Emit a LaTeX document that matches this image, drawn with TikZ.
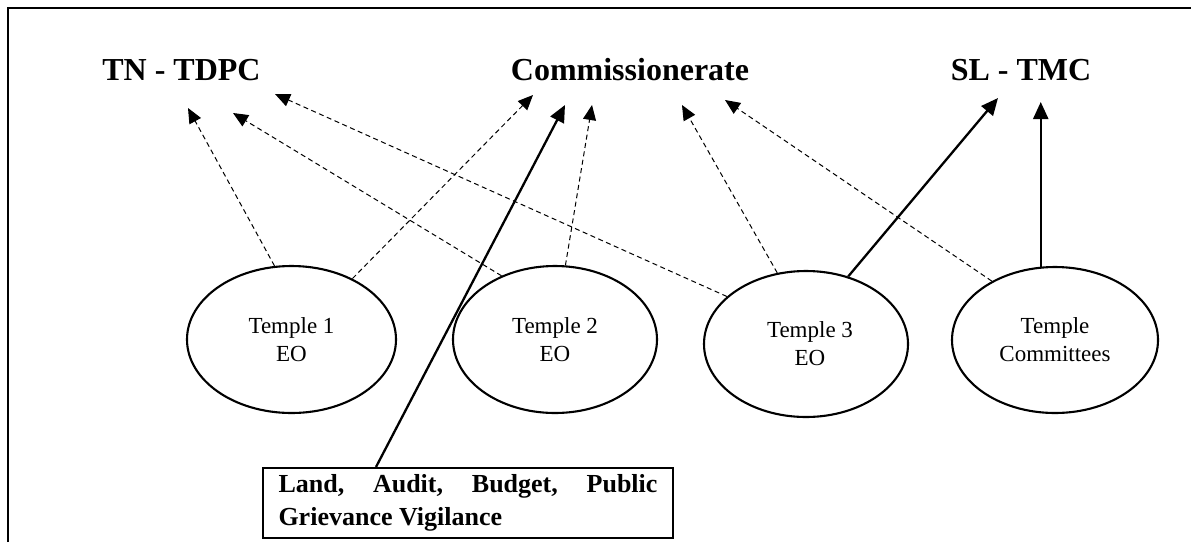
\documentclass[tikz,border=0pt]{standalone}
\usepackage{fontspec}
\setmainfont{Liberation Serif}
\usetikzlibrary{arrows.meta,shapes.geometric,calc}
\begin{document}
\begin{tikzpicture}[x=1pt,y=-1pt,
  heading/.style={font=\fontsize{32}{38}\selectfont\bfseries, anchor=base, inner sep=0pt},
  temple/.style={draw, line width=2.1pt, ellipse, inner sep=0pt, align=center,
                 font=\fontsize{23}{28}\selectfont},
  dasharrow/.style={dash pattern=on 5pt off 3.5pt, line width=1pt,
                    -{Triangle[length=15pt,width=13pt]}},
  solidarrow/.style={line width=2.3pt, -{Triangle[length=17pt,width=15pt]}},
  notebox/.style={draw, line width=2pt, minimum width=410pt, minimum height=70pt,
                  text width=379pt, inner xsep=15.5pt, inner ysep=0pt, align=justify,
                  font=\fontsize{26}{33}\selectfont\bfseries}
]
\useasboundingbox (0,0) rectangle (1191,542);
% frame (top and left only)
\draw[line width=2.3pt] (8,542) -- (8,8) -- (1191,8);

% headings
\node[heading] (tn) at (181.5,80) {TN - TDPC};
\node[heading] (cm) at (630,80) {Commissionerate};
\node[heading] (sl) at (1021,80) {SL - TMC};

% temples
\node[temple, minimum width=209pt, minimum height=147pt] (t1) at (291.5,339.5) {Temple 1\\EO};
\node[temple, minimum width=204pt, minimum height=147pt] (t2) at (555,339.5) {Temple 2\\EO};
\node[temple, minimum width=204pt, minimum height=146pt] (t3) at (806,344) {\hspace*{8pt}Temple 3\\\hspace*{8pt}EO};
\node[temple, minimum width=206pt, minimum height=146pt] (tc) at (1055,340) {Temple\\Committees};

% bottom box
\node[notebox] (box) at (468,503) {\tolerance=10000\relax Land, Audit, Budget, Public Grievance Vigilance};
\coordinate (boxtop) at ($(box.north west)+(114,0)$);

% arrow tips
\coordinate (tnA) at (188,108);
\coordinate (tnB) at (233,113);
\coordinate (tnC) at (275,94);
\coordinate (cmA) at (533,95);
\coordinate (cmB) at (565,105);
\coordinate (cmC) at (592,105);
\coordinate (cmD) at (682,105);
\coordinate (cmE) at (725,100);
\coordinate (slA) at (998,98);
\coordinate (slB) at (1041,102);

% connectors
\draw[dasharrow] (t1.103) -- (tnA);
\draw[dasharrow] (t1.45.5) -- (cmA);
\draw[dasharrow] (t2.130) -- (tnB);
\draw[dasharrow] (t2.82) -- (cmC);
\draw[dasharrow] (t3.149) -- (tnC);
\draw[dasharrow] (t3.112) -- (cmD);
\draw[solidarrow] (t3.58) -- (slA);
\draw[dasharrow] (tc.137) -- (cmE);
\draw[solidarrow] (tc.101) -- (tc.101 |- slB);
\draw[solidarrow] (boxtop) -- (cmB);
\end{tikzpicture}
\end{document}
